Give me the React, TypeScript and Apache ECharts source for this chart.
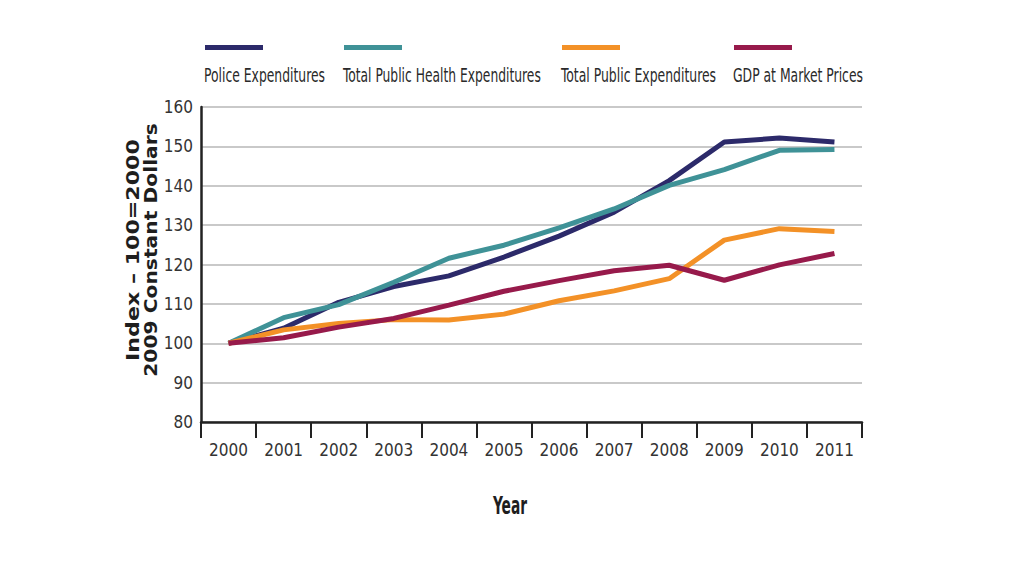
import React, { useEffect, useRef } from "react";
import * as echarts from "echarts";

const years = ["2000", "2001", "2002", "2003", "2004", "2005", "2006", "2007", "2008", "2009", "2010", "2011"];
const seriesNames = ["Police Expenditures", "Total Public Health Expenditures", "Total Public Expenditures", "GDP at Market Prices"];
const seriesColors = ["#2c2a6a", "#3f9297", "#f39127", "#971a4b"];
const policeExp = [100, 103.8, 110.4, 114.4, 117.1, 121.9, 127.2, 133.3, 141.3, 151.1, 152.1, 151.1];
const healthExp = [100, 106.5, 109.8, 115.5, 121.6, 124.9, 129.3, 134.1, 140.1, 144.1, 149.0, 149.2];
const publicExp = [100, 103.4, 105.0, 106.0, 105.9, 107.4, 110.8, 113.3, 116.4, 126.2, 129.1, 128.4];
const gdp = [100, 101.4, 104.1, 106.3, 109.7, 113.2, 115.9, 118.4, 119.8, 116.0, 119.9, 122.8];
const allValues = [policeExp, healthExp, publicExp, gdp];
const yTitleLines = ["Index – 100=2000", "2009 Constant Dollars"];
const xTitle = "Year";

const NARROW = "'DejaVu Sans Condensed', sans-serif";

function measure(text: string, font: string): number {
  const c = document.createElement("canvas").getContext("2d");
  if (!c) return 100;
  c.font = font;
  return c.measureText(text).width || 100;
}

export default function App() {
  const ref = useRef<HTMLDivElement>(null);
  useEffect(() => {
    if (!ref.current) return;
    const chart = echarts.init(ref.current, null, { renderer: "svg" });

    const legendX = [204, 343, 561, 733];
    const legendW = [121, 198, 155, 130];
    const legendFont = `19px ${NARROW}`;
    const legendGraphics: any[] = [];
    seriesNames.forEach((name, i) => {
      legendGraphics.push({
        type: "rect",
        shape: { x: legendX[i] + 1, y: 45, width: 58, height: 5 },
        style: { fill: seriesColors[i] },
      });
      legendGraphics.push({
        type: "text",
        x: legendX[i],
        y: 76,
        scaleX: legendW[i] / measure(name, legendFont),
        style: {
          text: name,
          font: legendFont,
          fill: "#2a2a2a",
          textAlign: "left",
          textVerticalAlign: "middle",
        },
      });
    });

    const yTitleFont = "bold 18px 'DejaVu Sans', sans-serif";
    const yTitleW = [222, 254];
    const yTitleX = [133, 151];
    const yTitleGraphics = yTitleLines.map((t, i) => ({
      type: "text",
      x: yTitleX[i],
      y: 250,
      rotation: Math.PI / 2,
      scaleX: yTitleW[i] / measure(t, yTitleFont),
      style: {
        text: t,
        font: yTitleFont,
        fill: "#1e1e1e",
        textAlign: "center",
        textVerticalAlign: "middle",
      },
    }));

    const xTitleFont = `bold 25px ${NARROW}`;

    chart.setOption({
      animation: false,
      backgroundColor: "#ffffff",
      grid: { left: 201, right: 162, top: 107, bottom: 154, containLabel: false },
      xAxis: {
        type: "category",
        data: years,
        boundaryGap: true,
        axisLine: { show: true, lineStyle: { color: "#222", width: 2.5 } },
        axisTick: { show: true, interval: 0, length: 16, lineStyle: { color: "#222", width: 2 } },
        axisLabel: { interval: 0, margin: 19, fontSize: 17, color: "#333", fontFamily: NARROW },
        splitLine: { show: false },
      },
      yAxis: {
        type: "value",
        min: 80,
        max: 160,
        interval: 10,
        axisLine: { show: true, lineStyle: { color: "#222", width: 2.5 } },
        axisTick: { show: false },
        axisLabel: { margin: 8, fontSize: 17, color: "#333", fontFamily: NARROW },
        splitLine: { show: true, lineStyle: { color: "#c9c9c9", width: 2 } },
      },
      series: seriesNames.map((name, i) => ({
        name,
        type: "line",
        data: allValues[i],
        symbol: "none",
        lineStyle: { color: seriesColors[i], width: 5 },
        itemStyle: { color: seriesColors[i] },
        z: 3 + i,
      })),
      graphic: [
        ...legendGraphics,
        ...yTitleGraphics,
        {
          type: "text",
          x: 510,
          y: 506,
          scaleX: 34 / measure(xTitle, xTitleFont),
          style: {
            text: xTitle,
            font: xTitleFont,
            fill: "#1e1e1e",
            textAlign: "center",
            textVerticalAlign: "middle",
          },
        },
      ],
    });
    return () => chart.dispose();
  }, []);
  return <div ref={ref} style={{ width: 1024, height: 576, position: "absolute", left: 0, top: 0 }} />;
}
